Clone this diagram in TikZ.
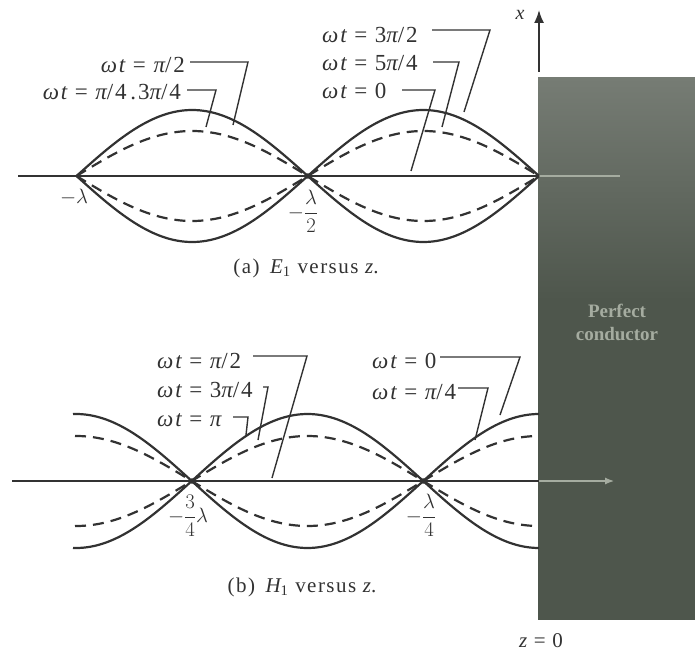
\documentclass[tikz,border=0pt]{standalone}
\usepackage{fontspec}
\setmainfont{Liberation Serif}
\newfontfamily\labfont[LetterSpace=8]{Liberation Serif}
\newfontfamily\capfont[LetterSpace=7]{Liberation Serif}
\usetikzlibrary{arrows.meta}
\definecolor{ink}{RGB}{50,50,50}
\definecolor{condtop}{RGB}{118,124,116}
\definecolor{condbot}{RGB}{78,86,76}
\definecolor{condtext}{RGB}{165,172,160}
\begin{document}
\begin{tikzpicture}[x=1pt,y=-1pt,
  curve/.style={draw=ink,line width=2.2pt},
  dcurve/.style={draw=ink,line width=2.2pt,dash pattern=on 11pt off 7pt},
  axisline/.style={draw=ink,line width=1.7pt},
  leader/.style={draw=ink,line width=1.4pt},
  lab/.style={font=\labfont\fontsize{23}{26}\selectfont,text=ink,inner sep=0pt},
  captxt/.style={font=\capfont\fontsize{21}{24}\selectfont,text=ink,inner sep=0pt},
  fraclab/.style={font=\fontsize{20}{23}\selectfont,text=ink,inner sep=0pt}
]
\useasboundingbox (0,0) rectangle (695,652);
% conductor
\shade[top color=condtop,bottom color=condbot] (538,78) rectangle (695,300);
\fill[condbot] (538,299) rectangle (695,620);
\node[font=\fontsize{19}{23}\selectfont\bfseries,text=condtext,align=center,inner sep=0pt] (pc) at (617,322) {Perfect\\conductor};
% coordinates
\coordinate (aL) at (18,176);
\coordinate (a0) at (539,176);
\coordinate (aR) at (620,176);
\coordinate (bL) at (12,481);
\coordinate (b0) at (539,481);
\coordinate (bR) at (614,481);
\coordinate (xB) at (539,72);
\coordinate (xT) at (539,10);
% axes
\draw[axisline] (aL) -- (a0);
\draw[draw=condtext,line width=1.2pt] (a0) -- (aR);
\draw[axisline] (bL) -- (b0);
\draw[draw=condtext,line width=1.2pt,-{Latex[length=9pt,width=7pt]}] (b0) -- (bR);
\draw[axisline,-{Latex[length=13pt,width=10pt]}] (xB) -- (xT);
\node[font=\fontsize{20}{22}\selectfont\itshape,text=ink,inner sep=0pt] (xlab) at (520,15) {x};
% curves (a)
\draw[curve] plot[domain=76.5:539,samples=140] (\x,{176-66*abs(sin((\x-76.5)/231.25*180))});
\draw[curve] plot[domain=76.5:539,samples=140] (\x,{176+66*abs(sin((\x-76.5)/231.25*180))});
\draw[dcurve] plot[domain=76.5:539,samples=140] (\x,{176-45*abs(sin((\x-76.5)/231.25*180))});
\draw[dcurve] plot[domain=76.5:539,samples=140] (\x,{176+45*abs(sin((\x-76.5)/231.25*180))});
% curves (b)
\draw[curve] plot[domain=73:539,samples=140] (\x,{481-67*abs(cos((\x-539)/231.5*180))});
\draw[curve] plot[domain=73:539,samples=140] (\x,{481+67*abs(cos((\x-539)/231.5*180))});
\draw[dcurve] plot[domain=75:539,samples=140] (\x,{481-45*abs(cos((\x-539)/231.5*180))});
\draw[dcurve] plot[domain=75:539,samples=140] (\x,{481+45*abs(cos((\x-539)/231.5*180))});
% node labels
\node[fraclab] (nA) at (74,197) {$-\lambda$};
\node[fraclab] (nB) at (303,211) {$-\displaystyle\frac{\lambda}{2}$};
\node[fraclab] (nC) at (188,516) {$-\displaystyle\frac{3}{4}\lambda$};
\node[fraclab] (nD) at (421,515) {$-\displaystyle\frac{\lambda}{4}$};
% labels (a)
\node[lab,anchor=east] (a1) at (185,65) {{\itshape ωt} = {\itshape π}/2};
\node[lab,anchor=east] (a2) at (181,92) {{\itshape ωt} = {\itshape π}/4\,.3{\itshape π}/4};
\node[lab,anchor=west] (a3) at (322,35) {{\itshape ωt} = 3{\itshape π}/2};
\node[lab,anchor=west] (a4) at (322,63) {{\itshape ωt} = 5{\itshape π}/4};
\node[lab,anchor=west] (a5) at (322,91) {{\itshape ωt} = 0};
\coordinate (a1s) at (190,62); \coordinate (a1b) at (248,62); \coordinate (a1e) at (233,125);
\coordinate (a2s) at (187,90); \coordinate (a2b) at (216,90); \coordinate (a2e) at (206,127);
\coordinate (a3s) at (432,30); \coordinate (a3b) at (490,30); \coordinate (a3e) at (464,112);
\coordinate (a4s) at (433,62); \coordinate (a4b) at (459,62); \coordinate (a4e) at (442,127);
\coordinate (a5s) at (402,90); \coordinate (a5b) at (435,90); \coordinate (a5e) at (411,171);
\draw[leader] (a1s) -- (a1b) -- (a1e);
\draw[leader] (a2s) -- (a2b) -- (a2e);
\draw[leader] (a3s) -- (a3b) -- (a3e);
\draw[leader] (a4s) -- (a4b) -- (a4e);
\draw[leader] (a5s) -- (a5b) -- (a5e);
% labels (b)
\node[lab,anchor=west] (b1) at (157,361) {{\itshape ωt} = {\itshape π}/2};
\node[lab,anchor=west] (b2) at (157,390) {{\itshape ωt} = 3{\itshape π}/4};
\node[lab,anchor=west] (b3) at (157,420) {{\itshape ωt} = {\itshape π}};
\node[lab,anchor=west] (b4) at (372,361) {{\itshape ωt} = 0};
\node[lab,anchor=west] (b5) at (372,392) {{\itshape ωt} = {\itshape π}/4};
\coordinate (b1s) at (253,356); \coordinate (b1b) at (307,356); \coordinate (b1e) at (272,478);
\coordinate (b2s) at (263,387); \coordinate (b2b) at (268,387); \coordinate (b2e) at (258,440);
\coordinate (b3s) at (233,417); \coordinate (b3b) at (248,417); \coordinate (b3e) at (246,435);
\coordinate (b4s) at (440,357); \coordinate (b4b) at (520,357); \coordinate (b4e) at (500,415);
\coordinate (b5s) at (458,388); \coordinate (b5b) at (488,388); \coordinate (b5e) at (475,440);
\draw[leader] (b1s) -- (b1b) -- (b1e);
\draw[leader] (b2s) -- (b2b) -- (b2e);
\draw[leader] (b3s) -- (b3b) -- (b3e);
\draw[leader] (b4s) -- (b4b) -- (b4e);
\draw[leader] (b5s) -- (b5b) -- (b5e);
% captions
\node[captxt] (capA) at (306,268) {(a)\enspace{\itshape E}\textsubscript{1} versus {\itshape z}.};
\node[captxt] (capB) at (302,587) {(b)\enspace{\itshape H}\textsubscript{1} versus {\itshape z}.};
\node[captxt] (z0) at (541,641) {{\itshape z} = 0};
\end{tikzpicture}
\end{document}
